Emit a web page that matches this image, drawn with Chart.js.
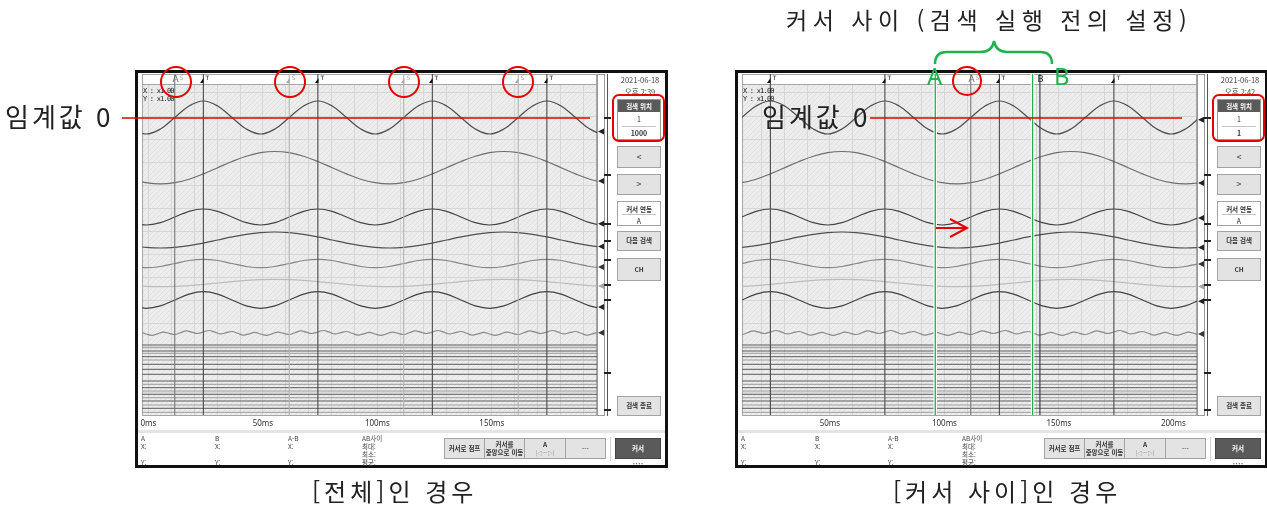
<!DOCTYPE html>
<html lang="ko"><head><meta charset="utf-8">
<script src="https://cdn.jsdelivr.net/npm/chart.js@4.4.1/dist/chart.umd.min.js"></script>
<style>
html,body{margin:0;padding:0;}
body{width:1267px;height:507px;background:#fff;position:relative;overflow:hidden;font-family:"Noto Sans CJK KR","Noto Sans",sans-serif;color:#222;}
.a{position:absolute;white-space:nowrap;}
.pan{will-change:transform;}
.frame{position:absolute;left:0;top:0;width:533px;height:398px;border:3px solid #111;box-sizing:border-box;background:#fff;}
.btn{position:absolute;background:#e3e3e3;border:1px solid #a3a3a3;box-sizing:border-box;font-size:6.5px;font-weight:bold;color:#333;display:flex;align-items:center;justify-content:center;text-align:center;line-height:1.2;}
.info{position:absolute;font-size:6.5px;color:#444;line-height:1;}
canvas{position:absolute;z-index:1;}
.big{position:absolute;font-size:24px;color:#222;white-space:nowrap;line-height:1;z-index:4;}
.mono{position:absolute;font-family:"DejaVu Sans Mono",monospace;font-size:7px;line-height:8px;letter-spacing:-0.8px;color:#222;z-index:2;}
</style></head>
<body>
<div id="root"></div>
<canvas id="cL" width="490" height="365" style="left:130px;top:70px"></canvas>
<canvas id="cR" width="490" height="365" style="left:730px;top:70px"></canvas>
<div class="mono" style="left:143px;top:87px">X : x1.00<br>Y : x1.00</div>
<div class="mono" style="left:743px;top:87px">X : x1.00<br>Y : x1.00</div>

<svg class="a" style="left:0;top:0;z-index:3" width="1267" height="507">
 <line x1="122" y1="118" x2="590" y2="118" stroke="#e60000" stroke-width="1.3"/>
 <line x1="870" y1="118" x2="1182" y2="118" stroke="#e60000" stroke-width="1.3"/>
 <g fill="none" stroke="#e60000" stroke-width="2">
  <circle cx="176" cy="82" r="15"/><circle cx="290" cy="82" r="15"/><circle cx="404" cy="82" r="15"/><circle cx="518" cy="82" r="15"/>
  <circle cx="967" cy="81" r="14"/>
  <path d="M936 228 H966 M950 219 L967 228 L950 237"/>
  <rect x="613" y="95" width="51" height="46" rx="6"/>
  <rect x="1213" y="95" width="51" height="46" rx="6"/>
 </g>
 <path d="M935 64 Q935 52 947 52 L981 52 Q992 52 994 41 Q996 52 1007 52 L1040 52 Q1052 52 1052 64" fill="none" stroke="#22b14c" stroke-width="2.5"/>
</svg>

<div class="big" style="left:5px;top:103px;font-size:26px;letter-spacing:3px">임계값 0</div>
<div class="big" style="left:762px;top:103px;font-size:26px;letter-spacing:3px">임계값 0</div>
<div class="big" style="left:786px;top:8px;font-size:23px;letter-spacing:5.5px">커서 사이 (검색 실행 전의 설정)</div>
<div class="big" style="left:927px;top:64px;color:#22b14c;font-family:'Noto Sans',sans-serif">A</div>
<div class="big" style="left:1054px;top:64px;color:#22b14c;font-family:'Noto Sans',sans-serif">B</div>
<div class="big" style="left:312px;top:479px;letter-spacing:4px">[전체]인 경우</div>
<div class="big" style="left:893px;top:479px;letter-spacing:4px">[커서 사이]인 경우</div>

<script>
// ---------------- DATA ----------------
const times = [-7.25,-1,5.25,11.5,17.75,24,30.25,36.5,42.75,49,55.25,61.5,67.75,74,80.25,86.5,92.75,99,105.25,111.5,117.75,124,130.25,136.5,142.75,149,155.25,161.5,167.75,174,180.25,186.5,192.75,199,205.25,211.5,217.75];
const ch1 = [286,281,286,297.5,309,314,309,297.5,286,281,286,297.5,309,314,309,297.5,286,281,286,297.5,309,314,309,297.5,286,281,286,297.5,309,314,309,297.5,286,281,286,297.5,309];
const ch2 = [235.8,232.3,231.1,232.3,235.8,241.1,247.3,253.5,258.8,262.3,263.5,262.3,258.8,253.5,247.3,241.1,235.8,232.3,231.1,232.3,235.8,241.1,247.3,253.5,258.8,262.3,263.5,262.3,258.8,253.5,247.3,241.1,235.8,232.3,231.1,232.3,235.8];
const ch3 = [192.3,190,192.3,198,203.7,206,203.7,198,192.3,190,192.3,198,203.7,206,203.7,198,192.3,190,192.3,198,203.7,206,203.7,198,192.3,190,192.3,198,203.7,206,203.7,198,192.3,190,192.3,198,203.7];
const ch4 = [169.3,167.6,167,167.6,169.3,171.9,175,178.1,180.7,182.4,183,182.4,180.7,178.1,175,171.9,169.3,167.6,167,167.6,169.3,171.9,175,178.1,180.7,182.4,183,182.4,180.7,178.1,175,171.9,169.3,167.6,167,167.6,169.3];
const ch5 = [148.5,147.3,148.5,151.5,154.5,155.7,154.5,151.5,148.5,147.3,148.5,151.5,154.5,155.7,154.5,151.5,148.5,147.3,148.5,151.5,154.5,155.7,154.5,151.5,148.5,147.3,148.5,151.5,154.5,155.7,154.5,151.5,148.5,147.3,148.5,151.5,154.5];
const ch6 = [129.4,128.6,128.3,128.6,129.4,130.6,132,133.4,134.6,135.4,135.7,135.4,134.6,133.4,132,130.6,129.4,128.6,128.3,128.6,129.4,130.6,132,133.4,134.6,135.4,135.7,135.4,134.6,133.4,132,130.6,129.4,128.6,128.3,128.6,129.4];
const ch7 = [109.1,106.7,109.1,115,120.9,123.3,120.9,115,109.1,106.7,109.1,115,120.9,123.3,120.9,115,109.1,106.7,109.1,115,120.9,123.3,120.9,115,109.1,106.7,109.1,115,120.9,123.3,120.9,115,109.1,106.7,109.1,115,120.9];
const times8 = [-6,-3.5,-1,1.5,4,6.5,9,11.5,14,16.5,19,21.5,24,26.5,29,31.5,34,36.5,39,41.5,44,46.5,49,51.5,54,56.5,59,61.5,64,66.5,69,71.5,74,76.5,79,81.5,84,86.5,89,91.5,94,96.5,99,101.5,104,106.5,109,111.5,114,116.5,119,121.5,124,126.5,129,131.5,134,136.5,139,141.5,144,146.5,149,151.5,154,156.5,159,161.5,164,166.5,169,171.5,174,176.5,179,181.5,184,186.5,189,191.5,194,196.5,199,201.5,204,206.5,209,211.5,214,216.5];
const ch8 = [81.2,82.6,81.0,79.6,81.2,82.9,81.7,80.5,82.3,84.1,82.8,81.5,83.0,84.5,82.8,81.1,82.3,83.5,81.7,79.9,
             81.2,82.6,81.0,79.6,81.2,82.9,81.7,80.5,82.3,84.1,82.8,81.5,83.0,84.5,82.8,81.1,82.3,83.5,81.7,79.9,
             81.2,82.6,81.0,79.6,81.2,82.9,81.7,80.5,82.3,84.1,82.8,81.5,83.0,84.5,82.8,81.1,82.3,83.5,81.7,79.9,
             81.2,82.6,81.0,79.6,81.2,82.9,81.7,80.5,82.3,84.1,82.8,81.5,83.0,84.5,82.8,81.1,82.3,83.5,81.7,79.9,
             81.2,82.6,81.0,79.6,81.2,82.9,81.7,80.5,82.3,84.1];
const digitalLevels = [70,67.3,64,61.7,58.3,55,50.7,45.7,40.7,34,30.7,27.3,24,20.7,17.3,14,10,6.7,2.7];
const channelMarkLevels = [297,240,191,174,155,130,115,42,5];
const triggerTimes = [24,74,124,174];
const searchTimesLeft = [61.5,111.5,161.5];
const cursorALeft = 11.5;
const cursorASearchRight = 111.5;
const cursorBRight = 141.7;
const rangeCursorsRight = [96,138.5];
const leftTickValues = [0,50,100,150];
const rightTickValues = [50,100,150,200];
const leftRange = [-2.8,195.9];
const rightRange = [11.6,210.3];

// ---------------- STYLES ----------------
const chStyles = [
 {c:'#505050',w:1.2,tri:'#222'},{c:'#6e6e6e',w:1.2,tri:'#222'},{c:'#454545',w:1.2,tri:'#222'},{c:'#505050',w:1.2,tri:'#222'},
 {c:'#858585',w:1.2,tri:'#333'},{c:'#bcbcbc',w:1.2,tri:'#a8a8a8'},{c:'#424242',w:1.2,tri:'#222'},{c:'#8a8a8a',w:1.2,tri:'#333'}];
const digShade = ['#5c5c5c','#9c9c9c','#5c5c5c','#9c9c9c','#5c5c5c','#9c9c9c','#5c5c5c','#5c5c5c','#5c5c5c','#5c5c5c','#9c9c9c','#5c5c5c','#9c9c9c','#5c5c5c','#9c9c9c','#5c5c5c','#9c9c9c','#5c5c5c','#9c9c9c'];
const YMAX = 341, STRIP = 331;

// ---------------- UI chrome ----------------
function panelHTML(dx, time, bottomVal){
 return `<div class="a pan" style="left:${135+dx}px;top:70px;width:533px;height:398px;">
  <div class="frame"></div>
  <div class="a" style="left:475px;top:4px;width:60px;text-align:center;font-size:7.5px;color:#444;line-height:12px">2021-06-18<br>${time}</div>
  <div class="a" style="left:482px;top:29px;width:44px;height:41px;border:1px solid #999;box-sizing:border-box;background:#fff">
    <div class="a" style="left:0;top:0;width:42px;height:12px;background:#5a5a5a;color:#fff;font-size:6.5px;font-weight:bold;text-align:center;line-height:12px">검색 위치</div>
    <div class="a" style="left:0;top:13px;width:42px;text-align:center;font-size:7px;line-height:12px;color:#333">1</div>
    <div class="a" style="left:4px;top:26px;width:34px;height:1px;background:#c4c4c4"></div>
    <div class="a" style="left:0;top:27px;width:42px;text-align:center;font-size:7px;font-weight:bold;line-height:12px;color:#333">${bottomVal}</div>
  </div>
  <div class="btn" style="left:482px;top:76px;width:44px;height:22px;font-size:9px;font-weight:normal">&lt;</div>
  <div class="btn" style="left:482px;top:104px;width:44px;height:21px;font-size:9px;font-weight:normal">&gt;</div>
  <div class="a" style="left:482px;top:131px;width:44px;height:25px;border:1px solid #a3a3a3;box-sizing:border-box;background:#fff">
    <div class="a" style="left:0;top:2px;width:42px;text-align:center;font-size:6.5px;font-weight:bold;color:#333">커서 연동</div>
    <div class="a" style="left:4px;top:12px;width:34px;height:1px;background:#c4c4c4"></div>
    <div class="a" style="left:0;top:14px;width:42px;text-align:center;font-size:7px;color:#333">A</div>
  </div>
  <div class="btn" style="left:482px;top:161px;width:44px;height:20px">다음 검색</div>
  <div class="btn" style="left:482px;top:188px;width:44px;height:23px">CH</div>
  <div class="btn" style="left:482px;top:326px;width:44px;height:20px">검색 종료</div>
  <div class="a" style="left:3px;top:360px;width:527px;height:3px;background:#e4e4e4"></div>
  <div class="info" style="left:6px;top:365px">A</div><div class="info" style="left:6px;top:373px">X:</div><div class="info" style="left:6px;top:389px">Y:</div>
  <div class="info" style="left:80px;top:365px">B</div><div class="info" style="left:80px;top:373px">X:</div><div class="info" style="left:80px;top:389px">Y:</div>
  <div class="info" style="left:153px;top:365px">A-B</div><div class="info" style="left:153px;top:373px">X:</div><div class="info" style="left:153px;top:389px">Y:</div>
  <div class="info" style="left:227px;top:365px">AB사이</div><div class="info" style="left:227px;top:373px">최대:</div><div class="info" style="left:227px;top:381px">최소:</div><div class="info" style="left:227px;top:389px">평균:</div>
  <div class="btn" style="left:309px;top:368px;width:41px;height:21px">커서로 점프</div>
  <div class="btn" style="left:349px;top:368px;width:41px;height:21px"><div>커서를<br>중앙으로 이동</div></div>
  <div class="btn" style="left:389px;top:368px;width:42px;height:21px"><div>A<br><span style="font-weight:normal;color:#888;font-size:5.5px">|◁—▷|</span></div></div>
  <div class="btn" style="left:430px;top:368px;width:41px;height:21px;font-weight:normal">---</div>
  <div class="a" style="left:475px;top:367px;width:1px;height:24px;background:#cfcfcf"></div>
  <div class="btn" style="left:480px;top:368px;width:46px;height:21px;background:#5a5a5a;border-color:#444;color:#fff">커서</div>
  <div class="a" style="left:480px;top:389px;width:46px;text-align:center;font-size:5px;color:#555">• • • •</div>
 </div>`;
}
document.getElementById('root').innerHTML = panelHTML(0,'오후 2:39','1000') + panelHTML(600,'오후 2:42','1');

// ---------------- Chart helpers ----------------
function wave(t, v, st){
 return {data:t.map((x,i)=>({x, y:v[i]})), borderColor:st.c, borderWidth:st.w, tension:0.4, pointRadius:0, showLine:true, order:3, isChannel:true, triColor:st.tri};
}
function vline(x, color, w, order){
 return {data:[{x, y:0},{x, y:YMAX}], borderColor:color, borderWidth:w, pointRadius:0, showLine:true, tension:0, order};
}
function hline(y, color){
 return {data:[{x:-20, y},{x:240, y}], borderColor:color, borderWidth:1, pointRadius:0, showLine:true, tension:0, order:3};
}
function valueAt(data, t){
 for(let i=1;i<data.length;i++){ if(data[i].x>=t){ const p=data[i-1], q=data[i]; return p.y+(q.y-p.y)*(t-p.x)/(q.x-p.x);} }
 return data[data.length-1].y;
}
function hatch(ctx){
 const c=document.createElement('canvas'); c.width=c.height=5; const g=c.getContext('2d');
 g.fillStyle='#ededed'; g.fillRect(0,0,5,5);
 g.strokeStyle='#e0e0e0'; g.lineWidth=1;
 g.beginPath(); g.moveTo(-1,6); g.lineTo(6,-1); g.moveTo(-1,1); g.lineTo(1,-1); g.moveTo(4,6); g.lineTo(6,4); g.stroke();
 return ctx.createPattern(c,'repeat');
}
function panelPlugin(markers){
 return {
  id:'panel',
  beforeDraw(chart){ const {ctx, chartArea:a} = chart; ctx.save(); ctx.fillStyle=hatch(ctx); ctx.fillRect(a.left,a.top,a.right-a.left,a.bottom-a.top); ctx.restore(); },
  beforeDatasetsDraw(chart){
   const {ctx, chartArea:a, scales:{y}} = chart; const sb = Math.round(y.getPixelForValue(STRIP));
   ctx.save();
   ctx.fillStyle='#fff'; ctx.fillRect(a.left,a.top,a.right-a.left,sb-a.top);
   ctx.strokeStyle='#a6a6a6'; ctx.lineWidth=1;
   ctx.strokeRect(a.left+0.5,a.top+0.5,a.right-a.left-1,a.bottom-a.top);
   ctx.beginPath(); ctx.moveTo(a.left,sb+0.5); ctx.lineTo(a.right,sb+0.5); ctx.stroke();
   ctx.fillStyle='#fff'; ctx.fillRect(a.right,a.top,8,a.bottom-a.top+1);
   ctx.strokeStyle='#9a9a9a'; ctx.strokeRect(a.right+0.5,a.top+0.5,7,a.bottom-a.top);
   ctx.strokeStyle='#555'; ctx.beginPath(); ctx.moveTo(a.right+10.5,a.top); ctx.lineTo(a.right+10.5,a.bottom+1); ctx.stroke();
   ctx.restore();
  },
  afterDatasetsDraw(chart){
   const {ctx, chartArea:a, scales:{x,y}} = chart; const sb = Math.round(y.getPixelForValue(STRIP));
   ctx.save();
   for(const m of markers){
    const px = Math.round(x.getPixelForValue(m.t))+0.5;
    if(px<a.left||px>a.right) continue;
    if(m.type==='T'||m.type==='S'){
     const col = m.type==='T' ? '#111' : '#a8a8a8';
     ctx.fillStyle=col; ctx.beginPath(); ctx.moveTo(px,sb-6); ctx.lineTo(px,sb-1); ctx.lineTo(px-3.5,sb-1); ctx.closePath(); ctx.fill();
     ctx.font='6px "DejaVu Sans"'; ctx.textAlign='left'; ctx.textBaseline='top'; ctx.fillText(m.type, px+2, a.top+1);
    } else {
     ctx.font='9px "DejaVu Sans"'; ctx.textAlign='center'; ctx.textBaseline='middle';
     ctx.fillStyle = m.type==='B' ? '#222' : '#6a6a6a';
     ctx.fillText(m.type==='B'?'B':'A', px, (a.top+sb)/2+0.5);
     if(m.type==='AS'){ ctx.font='6px "DejaVu Sans"'; ctx.fillStyle='#aaa'; ctx.textAlign='left'; ctx.textBaseline='top'; ctx.fillText('S', px+4, a.top+1); }
    }
   }
   chart.data.datasets.forEach(ds=>{
    if(!ds.isChannel) return;
    const py = y.getPixelForValue(valueAt(ds.data, x.max));
    ctx.fillStyle=ds.triColor; ctx.beginPath(); ctx.moveTo(a.right+1,py); ctx.lineTo(a.right+7,py-3); ctx.lineTo(a.right+7,py+3); ctx.closePath(); ctx.fill();
   });
   ctx.fillStyle='#222';
   channelMarkLevels.forEach(v=>{ const py=Math.round(y.getPixelForValue(v)); ctx.fillRect(a.right+7,py-1,7,2); });
   ctx.restore();
  }
 };
}
Chart.defaults.font.family = '"Noto Sans", sans-serif';
function makeChart(id, range, tickVals, lines, markers){
 const datasets = [];
 lines.forEach(l=>datasets.push(l));
 const waves = [[times,ch1],[times,ch2],[times,ch3],[times,ch4],[times,ch5],[times,ch6],[times,ch7],[times8,ch8]];
 waves.forEach((w,i)=>datasets.push(wave(w[0],w[1],chStyles[i])));
 digitalLevels.forEach((v,i)=>datasets.push(hline(v,digShade[i])));
 const gridVals = []; for(let g=0; g<=220; g+=10) if(g>=range[0] && g<=range[1]) gridVals.push(g);
 const hGrid = []; for(let g=0; g<STRIP; g+=23) hGrid.push(g);
 return new Chart(document.getElementById(id), {
  type:'scatter',
  data:{datasets},
  options:{
   responsive:false, animation:false, devicePixelRatio:1,
   layout:{padding:{left:12, top:4, right:23, bottom:0}},
   plugins:{legend:{display:false}, tooltip:{enabled:false}},
   elements:{point:{radius:0}},
   scales:{
    x:{type:'linear', min:range[0], max:range[1], position:'bottom',
       grid:{color:'#d6d6d6', drawTicks:false, lineWidth:1}, border:{display:false},
       afterBuildTicks:s=>{ s.ticks = gridVals.map(v=>({value:v})); },
       afterFit:s=>{ s.height = 20; },
       ticks:{autoSkip:false, maxRotation:0, padding:4, color:'#333', font:{size:8},
              callback:v=> tickVals.includes(v) ? v+'ms' : ''}},
    y:{min:0, max:YMAX, grid:{color:'#d6d6d6', drawTicks:false}, border:{display:false},
       afterBuildTicks:s=>{ s.ticks = hGrid.map(v=>({value:v})); },
       afterFit:s=>{ s.width = 0; },
       ticks:{display:false}}
   }
  },
  plugins:[panelPlugin(markers)]
 });
}
const leftLines = [vline(cursorALeft,'#767676',1.1,1)];
searchTimesLeft.forEach(t=>leftLines.push(vline(t,'#b4b4b4',1.1,2)));
triggerTimes.forEach(t=>leftLines.push(vline(t,'#4a4a4a',1.1,1)));
const leftMarkers = [{t:cursorALeft,type:'AS'}].concat(searchTimesLeft.map(t=>({t,type:'S'}))).concat(triggerTimes.map(t=>({t,type:'T'})));
makeChart('cL', leftRange, leftTickValues, leftLines, leftMarkers);
const rightLines = [];
triggerTimes.forEach(t=>rightLines.push(vline(t,'#4a4a4a',1.1,1)));
rightLines.push(vline(cursorASearchRight,'#7a7a7a',1.1,1));
rightLines.push(vline(cursorBRight,'#333',1.1,1));
rangeCursorsRight.forEach(t=>{ rightLines.push(vline(t,'#ffffff',3.5,0.5)); rightLines.push(vline(t,'#1fae4a',1.3,0)); });
const rightMarkers = triggerTimes.map(t=>({t,type:'T'})).concat([{t:cursorASearchRight,type:'AS'},{t:cursorBRight,type:'B'}]);
makeChart('cR', rightRange, rightTickValues, rightLines, rightMarkers);
</script>
</body></html>
